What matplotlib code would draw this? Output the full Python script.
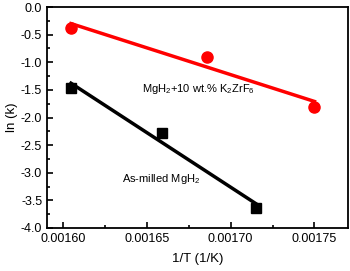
import numpy as np
import matplotlib
matplotlib.use("Agg")
from matplotlib import pyplot as plt
from matplotlib.ticker import MultipleLocator

plt.rcParams['font.family'] = ['Liberation Sans', 'DejaVu Sans']
plt.rcParams['mathtext.fontset'] = 'custom'
plt.rcParams['mathtext.rm'] = 'Liberation Sans'
plt.rcParams['mathtext.it'] = 'Liberation Sans'

# data
inv_T_doped = [0.0016048, 0.0016857, 0.00175]
lnk_doped = [-0.38, -0.905, -1.81]
inv_T_milled = [0.0016048, 0.001659, 0.0017149]
lnk_milled = [-1.466, -2.28, -3.64]

fig = plt.figure(figsize=(3.5, 2.71), dpi=100)
ax = fig.add_axes([47/350, 1-228/271, 301/350, 221/271])

for xs, ys, col, mk in [(inv_T_doped, lnk_doped, '#ff0000', 'o'),
                        (inv_T_milled, lnk_milled, 'black', 's')]:
	xs = np.array(xs)
	ys = np.array(ys)
	p = np.polyfit(xs, ys, 1)
	ax.plot(xs, np.polyval(p, xs), color=col, lw=2.5, zorder=2)
	ax.plot(xs, ys, mk, color=col, ms=8 if mk == 'o' else 7, zorder=3)

ax.text(0.001647, -1.49, 'MgH$_2$+10 wt.% K$_2$ZrF$_6$', fontsize=8, va='center')
ax.text(0.001635, -3.12, 'As-milled MgH$_2$', fontsize=8, va='center')

ax.set_xlim(0.0015905, 0.00177)
ax.set_ylim(-4.0, 0.0)
ax.xaxis.set_major_locator(MultipleLocator(0.00005))
ax.xaxis.set_minor_locator(MultipleLocator(0.000025))
ax.yaxis.set_major_locator(MultipleLocator(0.5))
ax.yaxis.set_minor_locator(MultipleLocator(0.25))
ax.xaxis.set_major_formatter(matplotlib.ticker.FormatStrFormatter('%.5f'))
ax.yaxis.set_major_formatter(matplotlib.ticker.FormatStrFormatter('%.1f'))
ax.tick_params(which='both', direction='in', labelsize=9, width=1.2)
ax.tick_params(which='major', length=4)
ax.tick_params(which='minor', length=2.5)
for s in ax.spines.values():
	s.set_linewidth(1.3)

ax.set_xlabel('1/T (1/K)', fontsize=9.5, labelpad=6)
ax.set_ylabel('ln (k)', fontsize=9.5, labelpad=2)

fig.savefig('out.png', dpi=100)
